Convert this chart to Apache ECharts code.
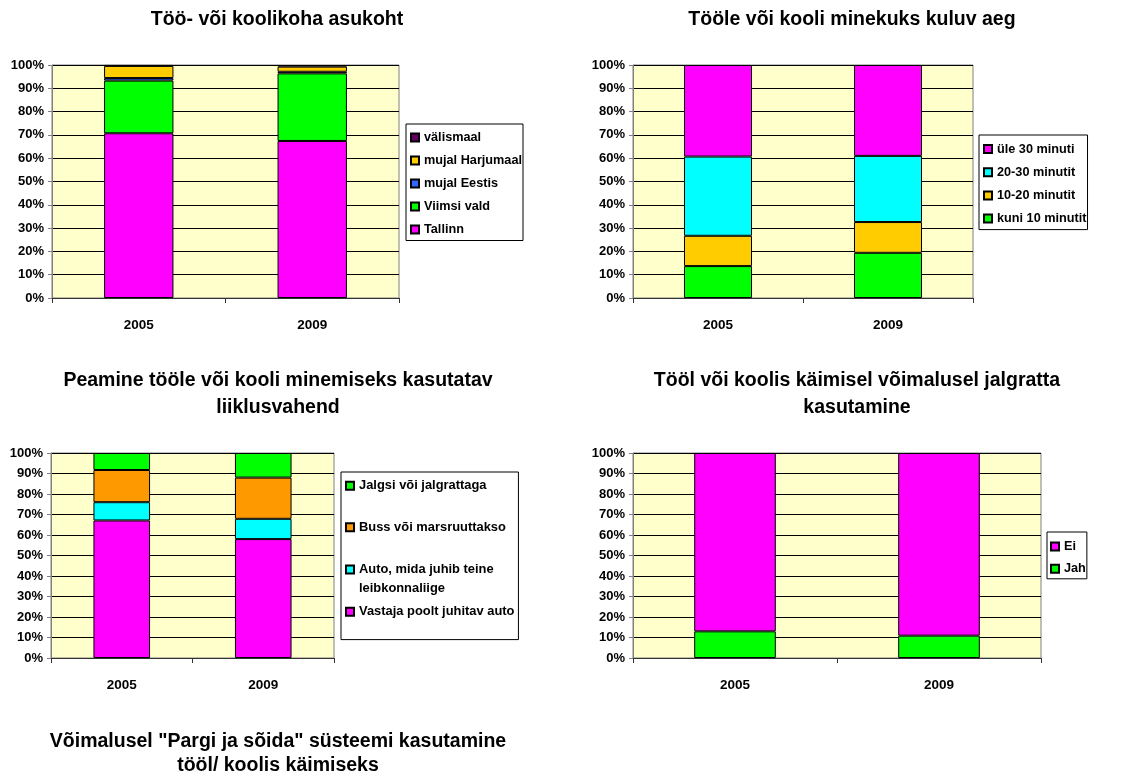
<!DOCTYPE html>
<html><head><meta charset="utf-8">
<script src="https://cdn.jsdelivr.net/npm/echarts@6/dist/echarts.min.js"></script>
<style>html,body{margin:0;padding:0;background:#fff}#c{width:1135px;height:771px}</style>
</head><body><div id="c"></div>
<script>
// ---------- data ----------
const years = ['2005', '2009'];
const yMin = 0, yMax = 100, yStep = 10;

// Chart 1: Töö- või koolikoha asukoht
const locNames = ['Tallinn', 'Viimsi vald', 'mujal Eestis', 'mujal Harjumaal', 'välismaal'];
const locTallinn = [70.7, 67.4];
const locViimsi = [22.6, 29.0];
const locEestis = [1.1, 0.7];
const locHarju = [5.2, 2.2];
const locValis = [0.4, 0.7];

// Chart 2: Tööle või kooli minekuks kuluv aeg
const timeNames = ['kuni 10 minutit', '10-20 minutit', '20-30 minutit', 'üle 30 minuti'];
const timeKuni10 = [13.7, 19.4];
const time10to20 = [13.0, 13.2];
const time20to30 = [34.0, 28.4];
const timeUle30 = [39.3, 39.0];

// Chart 3: Peamine liiklusvahend
const modeNames = ['Vastaja poolt juhitav auto', 'Auto, mida juhib teine\nleibkonnaliige', 'Buss või marsruuttakso', 'Jalgsi või jalgrattaga'];
const modeOwnCar = [67.1, 58.0];
const modeOtherCar = [8.9, 9.9];
const modeBus = [15.7, 20.1];
const modeWalk = [8.3, 12.0];

// Chart 4: jalgratta kasutamine
const bikeNames = ['Jah', 'Ei'];
const bikeJah = [13.0, 10.9];
const bikeEi = [87.0, 89.1];

const titleTexts = [
  'Töö- või koolikoha asukoht',
  'Tööle või kooli minekuks kuluv aeg',
  'Peamine tööle või kooli minemiseks kasutatav\nliiklusvahend',
  'Tööl või koolis käimisel võimalusel jalgratta\nkasutamine',
  'Võimalusel "Pargi ja sõida" süsteemi kasutamine\ntööl/ koolis käimiseks'
];

// ---------- styling / layout ----------
const FF = '"Liberation Sans", Arial, sans-serif';
const grids = [
  {left: 52, top: 65, width: 347, height: 233},
  {left: 633, top: 65, width: 340, height: 233},
  {left: 51, top: 453, width: 283, height: 205},
  {left: 633, top: 453, width: 408, height: 205}
];
const chartSeries = [
  {names: locNames, data: [locTallinn, locViimsi, locEestis, locHarju, locValis],
   colors: ['#FF00FF', '#00FF00', '#3366FF', '#FFCC00', '#660066']},
  {names: timeNames, data: [timeKuni10, time10to20, time20to30, timeUle30],
   colors: ['#00FF00', '#FFCC00', '#00FFFF', '#FF00FF']},
  {names: modeNames, data: [modeOwnCar, modeOtherCar, modeBus, modeWalk],
   colors: ['#FF00FF', '#00FFFF', '#FF9900', '#00FF00']},
  {names: bikeNames, data: [bikeJah, bikeEi],
   colors: ['#00FF00', '#FF00FF']}
];

const xAxis = [], yAxis = [], series = [];
grids.forEach((g, i) => {
  g.show = true;
  g.backgroundColor = '#FFFFCC';
  g.borderColor = '#808080';
  g.borderWidth = 1;
  g.outerBoundsMode = 'none';
  g.containLabel = false;
  xAxis.push({
    type: 'category', gridIndex: i, data: years,
    axisLine: {lineStyle: {color: '#333', width: 1}},
    axisTick: {show: true, length: 5, alignWithLabel: false, lineStyle: {color: '#333'}},
    axisLabel: {margin: 20, color: '#000', fontSize: 13.5, fontWeight: 'bold', fontFamily: FF},
    splitLine: {show: false}
  });
  yAxis.push({
    type: 'value', gridIndex: i, min: yMin, max: yMax, interval: yStep,
    axisLine: {show: true, lineStyle: {color: '#808080', width: 1}},
    axisTick: {show: true, length: 4, lineStyle: {color: '#808080'}},
    axisLabel: {margin: 8, formatter: '{value}%', color: '#000', fontSize: 13, fontWeight: 'bold', fontFamily: FF},
    splitLine: {show: true, lineStyle: {color: '#000', width: 1}}
  });
  const cs = chartSeries[i];
  cs.names.forEach((n, k) => {
    series.push({
      type: 'bar', name: n, xAxisIndex: i, yAxisIndex: i, stack: 's' + i,
      data: cs.data[k], barWidth: '40%', animation: false,
      itemStyle: {color: cs.colors[k], borderColor: '#000', borderWidth: 1}
    });
  });
});

const LFS = 12.7;
const legendText = {color: '#000', fontSize: LFS, fontWeight: 'bold', fontFamily: FF, lineHeight: 14};
const legendBase = {
  orient: 'vertical', align: 'left', icon: 'rect', itemWidth: 8, itemHeight: 8, itemTextGap: 3,
  backgroundColor: '#fff', borderColor: '#000', borderWidth: 1, selectedMode: false,
  textStyle: legendText
};
const richLine = {color: '#000', fontSize: 12.9, fontWeight: 'bold', fontFamily: FF, lineHeight: 19};
const legends = [
  Object.assign({}, legendBase, {left: 406, top: 124, itemGap: 9, padding: [6.5, 1, 4, 4],
    data: locNames.slice().reverse()}),
  Object.assign({}, legendBase, {left: 979, top: 135, itemGap: 9.2, padding: [7, 1, 4, 4],
    data: timeNames.slice().reverse()}),
  Object.assign({}, legendBase, {left: 341, top: 472, itemGap: -14.2, padding: [-14.2, 4, 0, 4],
    textStyle: Object.assign({}, legendText, {fontSize: 12.9, lineHeight: 55.8}),
    formatter: name => name.indexOf('\n') >= 0
      ? name.split('\n').map(s => '{r|' + s + '}').join('\n') : name,
    data: modeNames.slice().reverse().map(n => n.indexOf('\n') >= 0
      ? {name: n, textStyle: {lineHeight: 19, padding: [19, 0, 0, 0], rich: {r: richLine}}} : n)}),
  Object.assign({}, legendBase, {left: 1047, top: 532, itemGap: 8.3, padding: [7.5, 1, 3, 3],
    data: bikeNames.slice().reverse()})
];

const titleStyle = {color: '#000', fontSize: 19.5, fontWeight: 'bold', fontFamily: FF};
const titlePos = [
  {left: 277, top: 10, lh: 20},
  {left: 852, top: 10, lh: 20},
  {left: 278, top: 367.5, lh: 26.5},
  {left: 857, top: 367.5, lh: 26.5},
  {left: 278, top: 730, lh: 24}
];
const titles = titleTexts.map((t, i) => ({
  text: t, left: titlePos[i].left, top: titlePos[i].top, padding: 0,
  textAlign: 'center', textVerticalAlign: 'top',
  textStyle: Object.assign({}, titleStyle, {lineHeight: titlePos[i].lh})
}));

const chart = echarts.init(document.getElementById('c'), null, {renderer: 'canvas'});
chart.setOption({
  animation: false,
  backgroundColor: '#fff',
  title: titles,
  legend: legends,
  grid: grids,
  xAxis: xAxis,
  yAxis: yAxis,
  series: series
});
</script></body></html>
